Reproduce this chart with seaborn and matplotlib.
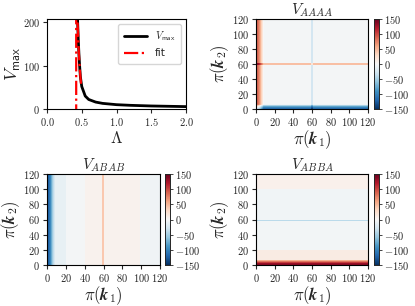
import numpy as np
import matplotlib
matplotlib.use("Agg")
import matplotlib.pyplot as plt
import seaborn as sns

sns.set_style("ticks")
plt.rcParams['mathtext.fontset'] = 'cm'
plt.rcParams['font.family'] = ['DejaVu Sans']
plt.rcParams['xtick.direction'] = 'out'
plt.rcParams['ytick.direction'] = 'out'

# ---- top-left: V_max vs Lambda ----
lam = [0.44, 0.45, 0.46, 0.47, 0.48, 0.50, 0.55, 0.60, 0.70, 0.80, 1.00, 1.20, 1.50, 2.00]
vmax = [205, 160, 125, 98, 75, 52, 30, 22, 16, 13, 10, 8.5, 7, 5.5]
fit_lam = [0.40, 0.4199, 0.4201, 0.43, 0.44, 0.45, 0.46, 0.47, 0.48, 0.49]
fit_v = [-300, -5000, 5000, 420, 205, 160, 125, 98, 75, 58]
lam_ticks = [0.0, 0.5, 1.0, 1.5, 2.0]
v_ticks = [0, 100, 200]

# ---- heatmaps: run-length profiles along k1 (columns) and k2 (rows) ----
k_ticks = [0, 20, 40, 60, 80, 100, 120]
cbar_ticks = [-150, -100, -50, 0, 50, 100, 150]

aaaa_col_levels = [95, 90, 82, 70, 55, 38, 22, 10, 3, 0, -25, -25, 0]
aaaa_col_counts = [1, 1, 1, 1, 1, 1, 1, 1, 1, 50, 1, 1, 59]
aaaa_row_levels = [-115, -110, -100, -80, -50, -22, -8, -3, 45, 45, -3]
aaaa_row_counts = [1, 1, 1, 1, 1, 1, 1, 52, 1, 1, 59]

abab_col_levels = [-125, -120, -110, -95, -75, -55, -38, -25, -12, -3, 7, 40, 40, 7, -6]
abab_col_counts = [1, 1, 1, 1, 1, 1, 1, 2, 11, 20, 18, 1, 1, 39, 21]
abab_row_levels = [0, 0]
abab_row_counts = [60, 60]

abba_row_levels = [135, 130, 122, 105, 80, 55, 32, 12, -4, -40, -40, -5, 8]
abba_row_counts = [1, 1, 1, 1, 1, 1, 1, 13, 38, 1, 1, 40, 20]
abba_col_levels = [0, 0]
abba_col_counts = [60, 60]


def build(row_levels, row_counts, col_levels, col_counts):
    r = np.repeat(row_levels, row_counts).astype(float)
    c = np.repeat(col_levels, col_counts).astype(float)
    return r[:, None] + c[None, :]


W, H = 415, 306
fig = plt.figure(figsize=(W / 100, H / 100), dpi=100)


def px_axes(l, r, t, b):
    return fig.add_axes([l / W, 1 - b / H, (r - l) / W, (b - t) / H])


tick_fs = 7.5
label_fs = 12

# top-left
ax0 = px_axes(47, 186, 19, 109)
sns.lineplot(x=lam, y=vmax, color='black', lw=2, ax=ax0, label=r'$V_{\mathsf{max}}$', sort=False)
sns.lineplot(x=fit_lam, y=fit_v, color='red', lw=1.6, ls='-.', ax=ax0, label='fit', sort=False)
ax0.set_xlim(0, 2)
ax0.set_ylim(0, 208)
ax0.set_xticks(lam_ticks)
ax0.set_xticklabels([f'${t:.1f}$' for t in lam_ticks], fontsize=tick_fs)
ax0.set_yticks(v_ticks)
ax0.set_yticklabels([f'${t}$' for t in v_ticks], fontsize=tick_fs)
ax0.set_xlabel(r'$\Lambda$', fontsize=label_fs, labelpad=1)
ax0.set_ylabel(r'$V_{\mathsf{max}}$', fontsize=label_fs + 1, labelpad=0)
ax0.tick_params(length=3, width=0.8, pad=2)
leg = ax0.legend(loc='upper right', fontsize=7.5, frameon=True, handlelength=2.2,
                 borderpad=0.5, labelspacing=0.5, fancybox=True)
for sp in ax0.spines.values():
    sp.set_linewidth(0.8)
    sp.set_color('black')

panels = [
    ((256, 368, 19, 109), (374, 379), r'$V_{AAAA}$',
     build(aaaa_row_levels, aaaa_row_counts, aaaa_col_levels, aaaa_col_counts)),
    ((47, 160, 174, 265), (165, 170), r'$V_{ABAB}$',
     build(abab_row_levels, abab_row_counts, abab_col_levels, abab_col_counts)),
    ((256, 368, 174, 265), (374, 379), r'$V_{ABBA}$',
     build(abba_row_levels, abba_row_counts, abba_col_levels, abba_col_counts)),
]

for (l, r, t, b), (cl, cr), title, mat in panels:
    ax = px_axes(l, r, t, b)
    cax = px_axes(cl, cr, t, b)
    sns.heatmap(mat, ax=ax, cmap='RdBu_r', vmin=-150, vmax=150, cbar_ax=cax,
                xticklabels=False, yticklabels=False, rasterized=True)
    ax.invert_yaxis()
    ax.set_xticks(k_ticks)
    ax.set_xticklabels([f'${k}$' for k in k_ticks], fontsize=tick_fs, rotation=0)
    ax.set_yticks(k_ticks)
    ax.set_yticklabels([f'${k}$' for k in k_ticks], fontsize=tick_fs, rotation=0)
    ax.tick_params(length=3, width=0.8, pad=2)
    for sp in ax.spines.values():
        sp.set_visible(True)
        sp.set_linewidth(0.8)
        sp.set_color('black')
    ax.set_title(title, fontsize=11, pad=3)
    ax.set_xlabel(r'$\pi(\mathbfit{k}_1)$', fontsize=label_fs, labelpad=0)
    ax.set_ylabel(r'$\pi(\mathbfit{k}_2)$', fontsize=label_fs, labelpad=1)
    cax.set_yticks(cbar_ticks)
    cax.set_yticklabels([f'${c}$' for c in cbar_ticks], fontsize=tick_fs)
    cax.tick_params(length=2, width=0.6, pad=1.5)
    for sp in cax.spines.values():
        sp.set_visible(True)
        sp.set_linewidth(0.6)

fig.savefig('out.png', dpi=100)
